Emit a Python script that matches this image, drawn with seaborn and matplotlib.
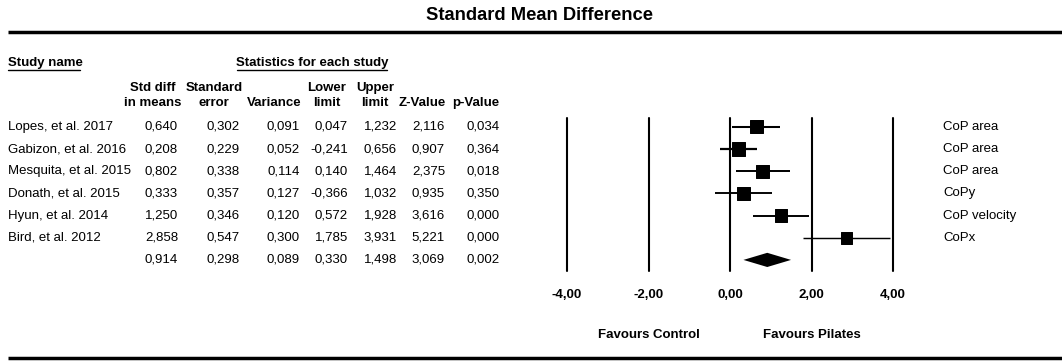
import numpy as np
import pandas as pd
import seaborn as sns
import matplotlib
matplotlib.use("Agg")
from matplotlib import pyplot as plt
from matplotlib import transforms

studies = ["Lopes, et al. 2017", "Gabizon, et al. 2016", "Mesquita, et al. 2015",
           "Donath, et al. 2015", "Hyun, et al. 2014", "Bird, et al. 2012"]
outcomes = ["CoP area", "CoP area", "CoP area", "CoPy", "CoP velocity", "CoPx"]
std_diff = [0.640, 0.208, 0.802, 0.333, 1.250, 2.858]
std_err = [0.302, 0.229, 0.338, 0.357, 0.346, 0.547]
variance = [0.091, 0.052, 0.114, 0.127, 0.120, 0.300]
lower = [0.047, -0.241, 0.140, -0.366, 0.572, 1.785]
upper = [1.232, 0.656, 1.464, 1.032, 1.928, 3.931]
z_value = [2.116, 0.907, 2.375, 0.935, 3.616, 5.221]
p_value = [0.034, 0.364, 0.018, 0.350, 0.000, 0.000]
# pooled (random effects) row
summary = [0.914, 0.298, 0.089, 0.330, 1.498, 3.069, 0.002]
ticks = [-4, -2, 0, 2, 4]

def fmt(v, nd=3):
    return f"{v:.{nd}f}".replace(".", ",")

df = pd.DataFrame({"study": studies, "outcome": outcomes, "es": std_diff, "se": std_err,
                   "var": variance, "lo": lower, "hi": upper, "z": z_value, "p": p_value})
df["row"] = np.arange(len(df))

# random-effects weights for the square sizes
w = 1 / df["var"]
q = (w * (df["es"] - (w * df["es"]).sum() / w.sum()) ** 2).sum()
tau2 = max(0, (q - (len(df) - 1)) / (w.sum() - (w ** 2).sum() / w.sum()))
df["wr"] = 1 / (df["var"] + tau2)
df["wr"] = df["wr"] / df["wr"].max()

sns.set_style("white")
plt.rcParams["font.family"] = ["Liberation Sans", "DejaVu Sans"]
plt.rcParams["text.color"] = "black"
plt.rcParams["xtick.color"] = "black"
W, H = 1062, 361
fig = plt.figure(figsize=(W / 100, H / 100), dpi=100)

# overlay in pixel coordinates for the table text
tab = fig.add_axes([0, 0, 1, 1])
tab.set_xlim(0, W)
tab.set_ylim(H, 0)
tab.axis("off")

# forest axes: -4..4 spans px 567..893, rows 0..6
x0, x1 = 567, 893
ytop, ybot = 118, 271
fax = fig.add_axes([x0 / W, 1 - ybot / H, (x1 - x0) / W, (ybot - ytop) / H])
fax.set_xlim(-4, 4)
fax.set_ylim(6.5, -0.4)
for s in fax.spines.values():
    s.set_visible(False)
fax.set_yticks([])
fax.set_xticks(ticks)
fax.set_xticklabels([fmt(t, 2) for t in ticks], fontsize=9.5, fontweight="bold")
fax.tick_params(axis="x", length=0, pad=13)
for t in ticks:
    fax.axvline(t, color="black", lw=1.5, clip_on=False)

for _, r in df.iterrows():
    fax.plot([r["lo"], r["hi"]], [r["row"], r["row"]], color="black",
             lw=1.6 * r["wr"], solid_capstyle="butt")
sns.scatterplot(data=df, x="es", y="row", size="wr", sizes=(72, 92), marker="s",
                color="black", edgecolor="black", legend=False, ax=fax, zorder=3)
fax.set_xlabel("")
fax.set_ylabel("")

srow = len(df)
fax.fill([summary[3], summary[0], summary[4], summary[0]],
         [srow, srow - 0.32, srow, srow + 0.32], color="black", lw=0)

# table: x in pixels, y in rows
rowtr = transforms.blended_transform_factory(tab.transData, fax.transData)
fs = 9.5
col_right = [178, 240, 300, 348, 397, 445, 500]
col_center = [153, 214, 274, 327, 375, 422, 476]
head1 = ["Std diff", "Standard", "", "Lower", "Upper", "", ""]
head2 = ["in means", "error", "Variance", "limit", "limit", "Z-Value", "p-Value"]

for i, r in df.iterrows():
    tab.text(8, r["row"], r["study"], transform=rowtr, fontsize=fs, va="center")
    vals = [r["es"], r["se"], r["var"], r["lo"], r["hi"], r["z"], r["p"]]
    for xr, v in zip(col_right, vals):
        tab.text(xr, r["row"], fmt(v), transform=rowtr, fontsize=fs, va="center", ha="right")
    tab.text(943, r["row"], r["outcome"], transform=rowtr, fontsize=fs, va="center")
for xr, v in zip(col_right, summary):
    tab.text(xr, srow, fmt(v), transform=rowtr, fontsize=fs, va="center", ha="right")

for xc, h1, h2 in zip(col_center, head1, head2):
    tab.text(xc, 88, h1, fontsize=fs, fontweight="bold", ha="center", va="center")
    tab.text(xc, 103, h2, fontsize=fs, fontweight="bold", ha="center", va="center")

tab.text(8, 63, "Study name", fontsize=fs, fontweight="bold", va="center")
tab.plot([8, 80], [70, 70], color="black", lw=1)
tab.text(312, 63, "Statistics for each study", fontsize=fs, fontweight="bold",
         ha="center", va="center")
tab.plot([237, 387], [70, 70], color="black", lw=1)

tab.text(539, 15, "Standard Mean Difference", fontsize=13.2, fontweight="bold",
         ha="center", va="center")
tab.plot([8, W], [32, 32], color="black", lw=2.5, solid_capstyle="butt")
tab.plot([8, W], [358, 358], color="black", lw=2.5, solid_capstyle="butt")

favtr = transforms.blended_transform_factory(fax.transData, tab.transData)
tab.text(-2, 335, "Favours Control", transform=favtr, fontsize=fs, fontweight="bold",
         ha="center", va="center")
tab.text(2, 335, "Favours Pilates", transform=favtr, fontsize=fs, fontweight="bold",
         ha="center", va="center")

fig.savefig("out.png", dpi=100)
